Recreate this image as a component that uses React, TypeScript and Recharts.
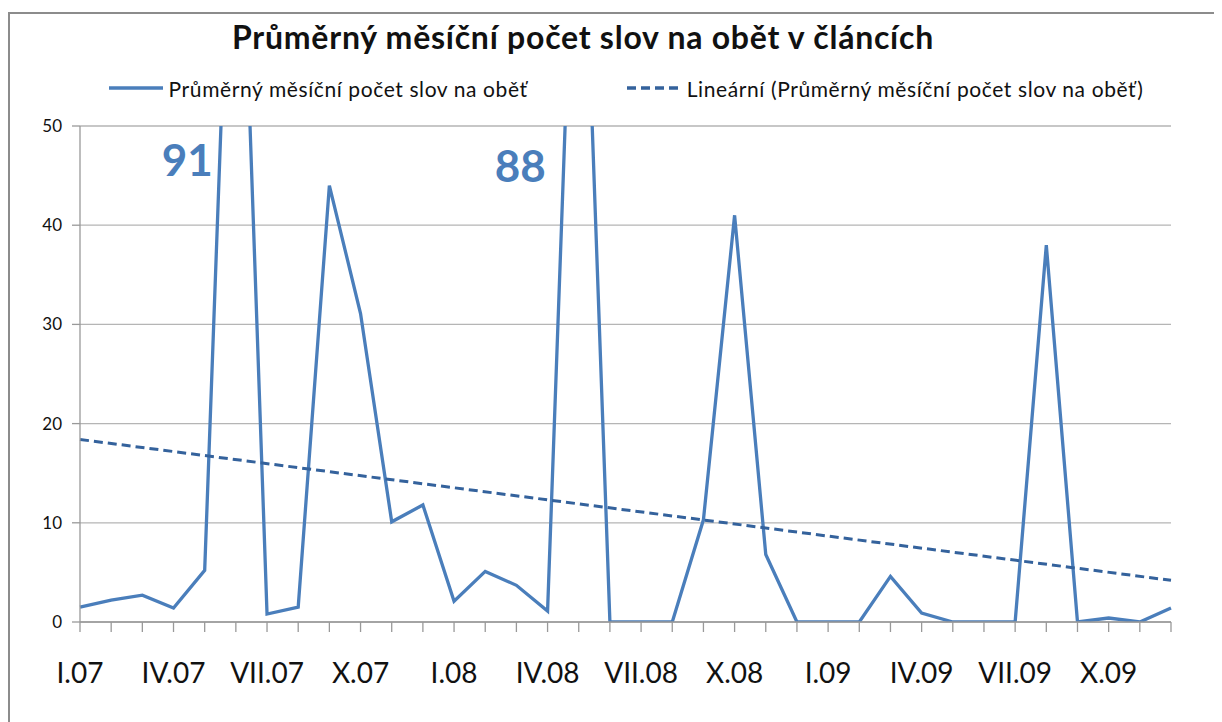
import { CartesianGrid, Legend, Line, LineChart, ReferenceDot, XAxis, YAxis } from "recharts";

const months = [
  "I.07", "II.07", "III.07", "IV.07", "V.07", "VI.07", "VII.07", "VIII.07", "IX.07", "X.07", "XI.07", "XII.07",
  "I.08", "II.08", "III.08", "IV.08", "V.08", "VI.08", "VII.08", "VIII.08", "IX.08", "X.08", "XI.08", "XII.08",
  "I.09", "II.09", "III.09", "IV.09", "V.09", "VI.09", "VII.09", "VIII.09", "IX.09", "X.09", "XI.09", "XII.09",
];

// průměrný počet slov na oběť, po měsících
const wordsPerVictim = [
  1.5, 2.2, 2.7, 1.4, 5.2, 91, 0.8, 1.5, 44, 31.1, 10.1, 11.8,
  2.1, 5.1, 3.7, 1.1, 88, 0, 0, 0, 10.3, 41, 6.8, 0,
  0, 0, 4.6, 0.9, 0, 0, 0, 38, 0, 0.4, 0, 1.4,
];

// lineární trend: hodnoty na začátku a na konci období
const trendStart = 18.4;
const trendEnd = 4.2;

const yTicks = [0, 10, 20, 30, 40, 50];

const SERIES_NAME = "Průměrný měsíční počet slov na oběť";
const TREND_NAME = "Lineární (Průměrný měsíční počet slov na oběť)";

const data = months.map((m, i) => ({
  month: m,
  value: wordsPerVictim[i],
  trend: i === 0 ? trendStart : i === months.length - 1 ? trendEnd : null,
}));

const BLUE = "#4a7ebb";
const TREND = "#34629c";
const FONT = "Lato, 'Open Sans', sans-serif";

function MonthTick(props: any) {
  const { x, y, payload } = props;
  const idx = payload?.index ?? props.index;
  if (idx % 3 !== 0) return null;
  return (
    <text x={x} y={y} dy={49} textAnchor="middle" fontSize={28} fontFamily={FONT} fill="#111">
      {payload.value}
    </text>
  );
}

function LegendBox() {
  const item = (dash: string | undefined, color: string, label: string) => (
    <div style={{ display: "flex", alignItems: "center" }}>
      <svg width={56} height={6} style={{ marginRight: 5 }}>
        <line x1={1} y1={3} x2={55} y2={3} stroke={color} strokeWidth={3.5} strokeDasharray={dash} />
      </svg>
      <span style={{ fontSize: 21, letterSpacing: 0.6, fontFamily: FONT, color: "#111" }}>{label}</span>
    </div>
  );
  return (
    <div style={{ display: "flex", justifyContent: "center", gap: 98, height: 24, alignItems: "center" }}>
      {item(undefined, BLUE, SERIES_NAME)}
      {item("9 5", TREND, TREND_NAME)}
    </div>
  );
}

export default function App() {
  return (
    <div style={{ position: "relative", width: 1214, height: 714, overflow: "hidden", background: "#fff" }}>
      <div
        style={{
          position: "absolute",
          left: 0,
          top: 4,
          width: 1230,
          height: 730,
          borderLeft: "2px solid #8c8c8c",
          borderTop: "2px solid #8c8c8c",
        }}
      />
      <div
        style={{
          position: "absolute",
          left: 0,
          top: 13,
          width: 1150,
          textAlign: "center",
          fontFamily: FONT,
          fontWeight: 700,
          fontSize: 32,
          letterSpacing: 0.75,
          lineHeight: "32px",
          color: "#111",
        }}
      >
        Průměrný měsíční počet slov na obět v článcích
      </div>
      <LineChart width={1214} height={714} data={data} margin={{ top: 94, right: 51, left: 12, bottom: 40 }}>
        <CartesianGrid vertical={false} stroke="#b5b5b5" strokeWidth={1.3} />
        <XAxis
          dataKey="month"
          interval={0}
          tick={<MonthTick />}
          tickSize={10}
          height={60}
          axisLine={{ stroke: "#999", strokeWidth: 1.3 }}
          tickLine={{ stroke: "#999", strokeWidth: 1.3 }}
        />
        <YAxis
          domain={[0, 50]}
          ticks={yTicks}
          allowDataOverflow
          width={60}
          tickSize={8}
          tickMargin={10}
          axisLine={{ stroke: "#999", strokeWidth: 1.3 }}
          tickLine={{ stroke: "#999", strokeWidth: 1.3 }}
          tick={{ fontSize: 17, fontFamily: FONT, fill: "#111" }}
        />
        <Legend verticalAlign="top" content={<LegendBox />} wrapperStyle={{ top: 68, left: 72, width: 1091 }} />
        <Line
          dataKey="value"
          name={SERIES_NAME}
          stroke={BLUE}
          strokeWidth={3.3}
          dot={false}
          activeDot={false}
          isAnimationActive={false}
        />
        <Line
          dataKey="trend"
          name={TREND_NAME}
          stroke={TREND}
          strokeWidth={3}
          strokeDasharray="9 5"
          connectNulls
          dot={false}
          activeDot={false}
          isAnimationActive={false}
        />
        <ReferenceDot
          x={months[5]}
          y={46.5}
          r={0}
          ifOverflow="visible"
          label={{ value: "91", position: "left", offset: 23, fontSize: 44, fontWeight: 700, fontFamily: FONT, fill: BLUE }}
        />
        <ReferenceDot
          x={months[16]}
          y={45.9}
          r={0}
          ifOverflow="visible"
          label={{ value: "88", position: "left", offset: 33, fontSize: 44, fontWeight: 700, fontFamily: FONT, fill: BLUE }}
        />
      </LineChart>
    </div>
  );
}
